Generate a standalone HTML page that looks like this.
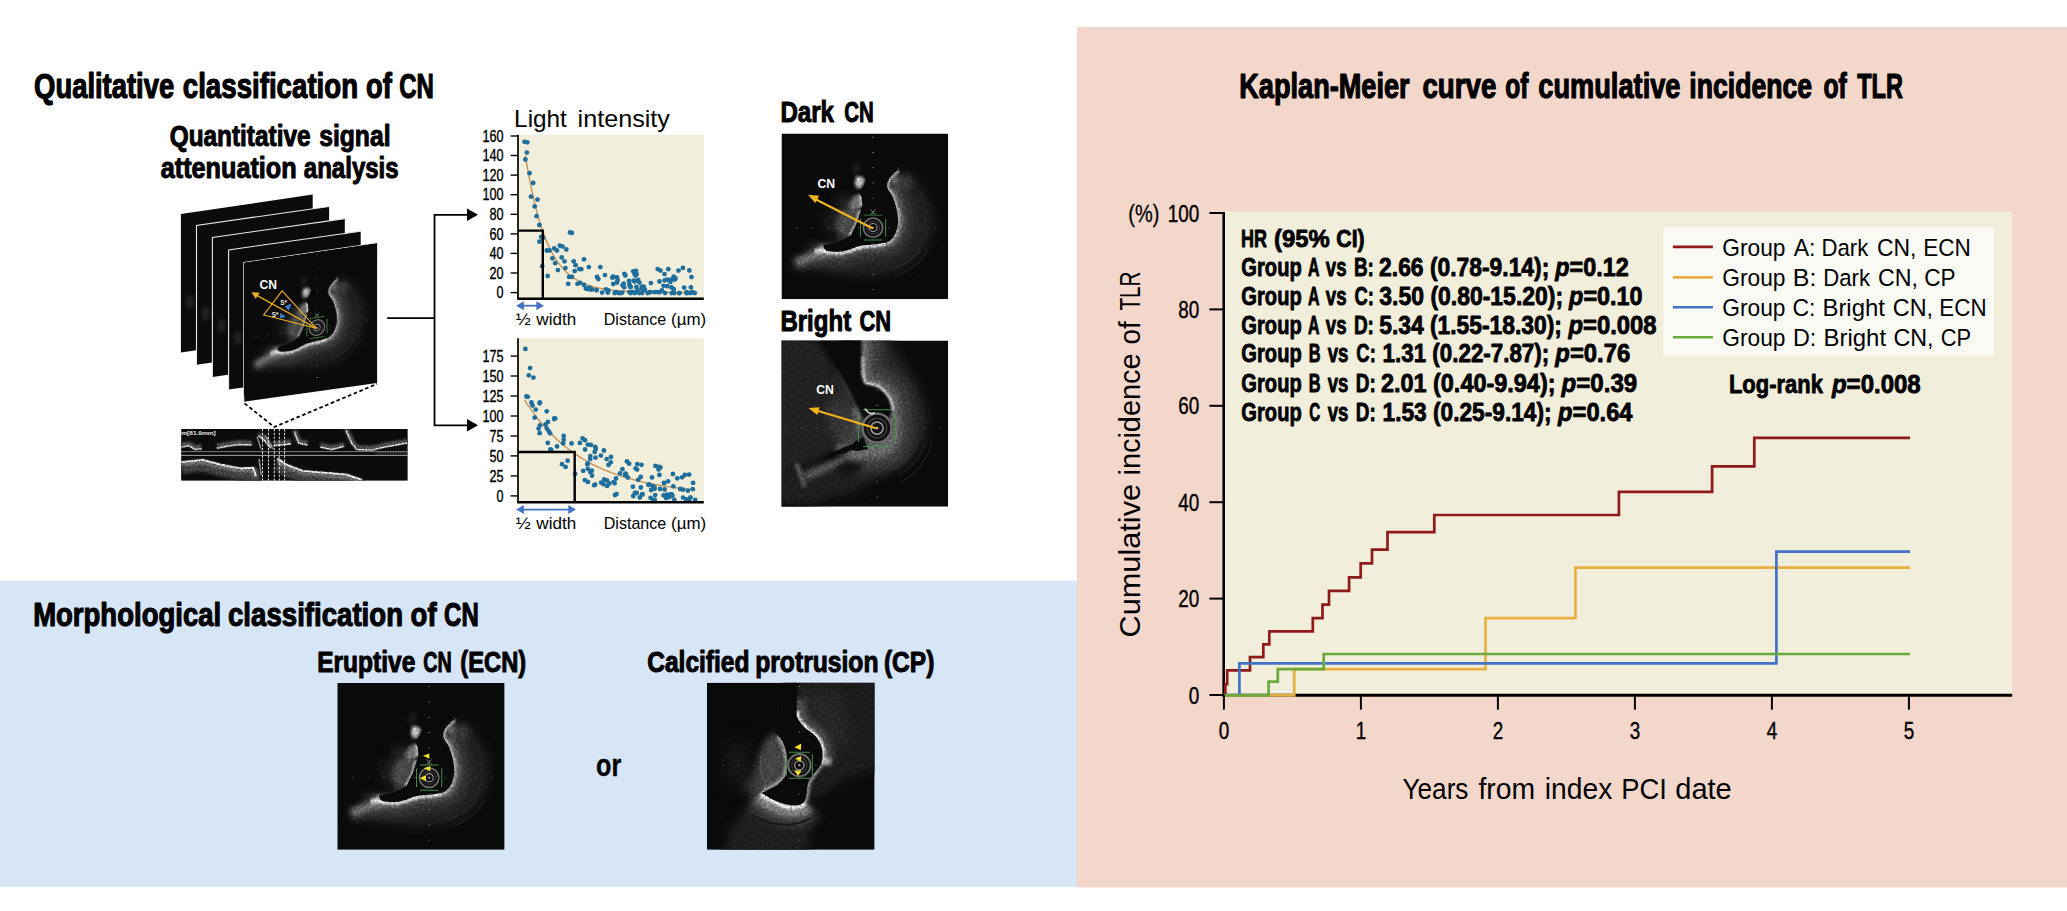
<!DOCTYPE html>
<html lang="en"><head><meta charset="utf-8"><title>Calcified nodule classification and TLR</title>
<style>html,body{margin:0;padding:0;background:#fff;overflow:hidden}svg{display:block}text{font-family:"Liberation Sans", sans-serif;}</style></head>
<body>
<svg width="2067" height="911" viewBox="0 0 2067 911">
<defs>
<filter id="b03" filterUnits="userSpaceOnUse" x="-30" y="-30" width="300" height="160" color-interpolation-filters="sRGB"><feGaussianBlur stdDeviation="0.3"/></filter>
<filter id="b05" filterUnits="userSpaceOnUse" x="-30" y="-30" width="300" height="160" color-interpolation-filters="sRGB"><feGaussianBlur stdDeviation="0.5"/></filter>
<filter id="b07" filterUnits="userSpaceOnUse" x="-30" y="-30" width="300" height="160" color-interpolation-filters="sRGB"><feGaussianBlur stdDeviation="0.7"/></filter>
<filter id="b1" filterUnits="userSpaceOnUse" x="-30" y="-30" width="300" height="160" color-interpolation-filters="sRGB"><feGaussianBlur stdDeviation="1.0"/></filter>
<filter id="b15" filterUnits="userSpaceOnUse" x="-30" y="-30" width="300" height="160" color-interpolation-filters="sRGB"><feGaussianBlur stdDeviation="1.5"/></filter>
<filter id="b2" filterUnits="userSpaceOnUse" x="-30" y="-30" width="300" height="160" color-interpolation-filters="sRGB"><feGaussianBlur stdDeviation="2.0"/></filter>
<filter id="b25" filterUnits="userSpaceOnUse" x="-30" y="-30" width="300" height="160" color-interpolation-filters="sRGB"><feGaussianBlur stdDeviation="2.5"/></filter>
<filter id="b3" filterUnits="userSpaceOnUse" x="-30" y="-30" width="300" height="160" color-interpolation-filters="sRGB"><feGaussianBlur stdDeviation="3.0"/></filter>
<filter id="b4" filterUnits="userSpaceOnUse" x="-30" y="-30" width="300" height="160" color-interpolation-filters="sRGB"><feGaussianBlur stdDeviation="4.0"/></filter>
<filter id="b6" filterUnits="userSpaceOnUse" x="-30" y="-30" width="300" height="160" color-interpolation-filters="sRGB"><feGaussianBlur stdDeviation="6.0"/></filter>
<filter id="spk" x="0" y="0" width="100" height="100" filterUnits="userSpaceOnUse" color-interpolation-filters="sRGB"><feTurbulence type="fractalNoise" baseFrequency="0.7" numOctaves="2" seed="4" result="n"/><feColorMatrix in="n" type="matrix" values="1 0 0 0 0  1 0 0 0 0  1 0 0 0 0  0 0 0 0 1" result="g"/><feComposite in="SourceGraphic" in2="g" operator="arithmetic" k1="0.9" k2="0.55" k3="0" k4="0"/></filter>
<filter id="spk2" x="0" y="0" width="227" height="52" filterUnits="userSpaceOnUse" color-interpolation-filters="sRGB"><feTurbulence type="fractalNoise" baseFrequency="0.6" numOctaves="2" seed="9" result="n"/><feColorMatrix in="n" type="matrix" values="1 0 0 0 0  1 0 0 0 0  1 0 0 0 0  0 0 0 0 1" result="g"/><feComposite in="SourceGraphic" in2="g" operator="arithmetic" k1="1.2" k2="0.4" k3="0" k4="0"/></filter>
<clipPath id="sq"><rect x="0" y="0" width="100" height="100"/></clipPath>
<g id="octA" clip-path="url(#sq)"><rect width="100" height="100" fill="#0a0a0b"/><g filter="url(#spk)"><path d="M69.9,22 C66,25 63,28.5 63.3,31.8 C64,35 66,36 67,39 C69,44 70.2,50 69.9,53.8 C69.5,58 68.5,60 67.7,61.5 C66,64.5 64,65.5 62.2,65.9 C57,67 53,67.2 49.1,67.5 C45,68 43,69.5 40.4,70.3 C37,71.3 34,71.6 31.7,71.4 C29,71.2 27,71 26.2,70.3 C25.3,69.5 25,68.5 25.1,67.5 L21.8,68.5 L10.9,74 L6.5,77 L5,80 L10.9,81.2 C20,84 28,85.3 32.8,85.6 C42,87 50,87 54.6,86.7 C62,86 67,85 71,83.4 C77,80 80,78 83,74.6 C88,69 90,65 90.6,61.5 C92,56 92,52 91.7,49.4 C91,44 89,40 87.3,36.2 C84,31 81,27.5 78.6,25.2 C75,22.5 72,21.5 69.9,22 Z" fill="#202020" filter="url(#b3)"/><path d="M65.5,33.5 C66,35.5 66.5,37 67,39 C69,44 70.2,50 69.9,53.8 C69.5,58 68.5,60 67.7,61.5 C66,64.5 64,65.5 62.2,65.9 C57,67 53,67.2 49.1,67.5 C45,68 43,69.5 40.4,70.3 C37,71.3 34,71.6 31.7,71.4 C29,71.2 27,71 26.2,70.3 C25.3,69.5 25,68.5 25.1,67.5" fill="none" stroke="#363636" stroke-width="18" filter="url(#b25)"/><path d="M72,27 L76,33" fill="none" stroke="#3a3a3a" stroke-width="9" filter="url(#b2)"/><path d="M26,74 L8,79" fill="none" stroke="#3a3a3a" stroke-width="8" filter="url(#b2)"/><path d="M65.5,33.5 C66,35.5 66.5,37 67,39 C69,44 70.2,50 69.9,53.8 C69.5,58 68.5,60 67.7,61.5 C66,64.5 64,65.5 62.2,65.9 C57,67 53,67.2 49.1,67.5 C45,68 43,69.5 40.4,70.3 C37,71.3 34,71.6 31.7,71.4 C29,71.2 27,71 26.2,70.3 C25.3,69.5 25,68.5 25.1,67.5" fill="none" stroke="#606060" stroke-width="7.5" filter="url(#b15)"/><path d="M69.5,25.5 L66.5,31" fill="none" stroke="#646464" stroke-width="5" filter="url(#b15)"/><path d="M28,72.5 L18,74 L9,78" fill="none" stroke="#777" stroke-width="4" filter="url(#b15)"/><path d="M69.9,22 C66,25 63,28.5 63.3,31.8 C64,35 66,36 67,39 C69,44 70.2,50 69.9,53.8 C69.5,58 68.5,60 67.7,61.5 C66,64.5 64,65.5 62.2,65.9 C57,67 53,67.2 49.1,67.5 C45,68 43,69.5 40.4,70.3 C37,71.3 34,71.6 31.7,71.4 C29,71.2 27,71 26.2,70.3 C25.3,69.5 25,68.5 25.1,67.5" fill="none" stroke="#a8a8a8" stroke-width="3" filter="url(#b07)"/><path d="M62.2,65.9 C57,67 53,67.2 49.1,67.5 C45,68 43,69.5 40.4,70.3 C37,71.3 34,71.6 31.7,71.4 C29,71.2 27,71 26.2,70.3 L20,71.5" fill="none" stroke="#d4d4d4" stroke-width="3.2" filter="url(#b07)"/><ellipse cx="33" cy="53" rx="9" ry="9" fill="#1c1c1c" filter="url(#b3)"/><ellipse cx="39" cy="42" rx="7" ry="4.5" fill="#262626" filter="url(#b25)"/><path d="M46.5,45 L44,56 L40.5,62.5 L35,62.5 L32,56 L35,47 L41,44 Z" fill="#4a4a4a" filter="url(#b15)"/><path d="M47,46.5 L44.6,55.5 L41,62" fill="none" stroke="#b5b5b5" stroke-width="2.2" filter="url(#b07)"/><path d="M47.5,36 L48.3,40 L47.5,45 L43,47 L40,43 L43,38 Z" fill="#6e6e6e" filter="url(#b1)"/><path d="M47.3,37 L48,40.5 L47.5,44" fill="none" stroke="#d0d0d0" stroke-width="1.8" filter="url(#b05)"/><path d="M45,25.5 L49,26.5 L50,29 L48,32.5 L45.5,33.5 L44,30 Z" fill="#c2c2c2" filter="url(#b1)"/><path d="M44,24 L46,18" fill="none" stroke="#2a2a2a" stroke-width="3" filter="url(#b15)"/></g><path d="M69.9,22 C66,25 63,28.5 63.3,31.8 C64,35 66,36 67,39 C69,44 70.2,50 69.9,53.8 C69.5,58 68.5,60 67.7,61.5 C66,64.5 64,65.5 62.2,65.9 C57,67 53,67.2 49.1,67.5 C45,68 43,69.5 40.4,70.3 C37,71.3 34,71.6 31.7,71.4 C29,71.2 27,71 26.2,70.3 C25.3,69.5 25,68.5 25.1,67.5 L32.8,65.9 L38.2,63.7 L41.5,61.5 L44.8,54.9 L47,48.3 L48.6,43.9 L48,38.4 L46.4,35.1 L48.6,32.9 L50.8,28.5 L49.7,25.2 L48,19.8 L49,13 L66,13 L67.5,18 Z" fill="#0a0a0b" filter="url(#b03)"/><path d="M84,68 A30,30 0 0 1 66,82 M88,70 A34,34 0 0 1 68,86" fill="none" stroke="#3a3a3a" stroke-width="0.6" opacity="0.5"/><path d="M54.9,2 V100" stroke="#6a6a6a" stroke-width="1.1" stroke-dasharray="0.5 8.7" fill="none"/><path d="M8.9,56.8 H100" stroke="#6a6a6a" stroke-width="0.5" stroke-dasharray="1.0 8.2" fill="none" opacity="0.8"/><circle cx="54.9" cy="56.8" r="6.26" fill="#0a0a0a"/><circle cx="54.9" cy="56.8" r="5.8" fill="#101010" stroke="#6e6e6e" stroke-width="0.99"/><circle cx="54.9" cy="56.8" r="3.94" fill="none" stroke="#3c3c3c" stroke-width="0.58"/><circle cx="54.9" cy="56.8" r="2.44" fill="none" stroke="#9a9a9a" stroke-width="0.64"/><circle cx="54.9" cy="56.8" r="0.58" fill="#c9a0c0"/><path d="M49.39,49.26 H60.41 M49.39,64.34 H60.41 M47.36,51.29 V62.31 M62.44,51.29 V62.31" stroke="#3f8f45" stroke-width="0.6" fill="none"/><path d="M53.2,45.8 L56.6,48.8 M56.6,45.8 L53.2,48.8" stroke="#6d8f6d" stroke-width="0.5"/></g>
<g id="octB" clip-path="url(#sq)"><rect width="100" height="100" fill="#0a0a0b"/><g filter="url(#spk)"><path d="M-6,-6 L22,-2 L32,14 L46,37 L47,58 L27,70 L11,77 L-6,86 Z" fill="#212121" filter="url(#b3)"/><ellipse cx="37" cy="48" rx="9" ry="14" transform="rotate(-20 37 48)" fill="#363636" filter="url(#b3)"/><path d="M44,40 L46.5,48 L46,57 L40,62 L33,66" fill="none" stroke="#6c6c6c" stroke-width="4.5" filter="url(#b15)"/><path d="M-5,80 L20,74 L40,70 L58,72 L60,82 L45,92 L15,100 L-5,100 Z" fill="#1e1e1e" filter="url(#b3)"/><path d="M50,67.5 L40,70.5 L30,75 L14,82" fill="none" stroke="#5c5c5c" stroke-width="4.5" filter="url(#b15)"/><path d="M9,74 L14,88" fill="none" stroke="#555" stroke-width="3" filter="url(#b1)"/><path d="M48,-2 L48,19.8 C48.5,22.5 49,24.5 50.2,26.3 C52.5,26.8 55.5,27 57.5,28.2 C60.5,30 63,32.5 64.2,35.1 C65.5,37.5 66,39.5 66,42 C66,45 66.8,50 66.5,56 C66,59 65,61 64,62 C63,63.5 62,64.5 61,64.8 C58,65.7 55,65.9 52.4,65.9 C49,66 47,66.4 45,67 L40,70 L42,79 L52,83 L65,81 L78,73 L87,59 L88.5,45 L84,30 L76,16 L68,5 L66,-2 Z" fill="#242424" filter="url(#b3)"/><path d="M48,-2 L48,19.8 C48.5,22.5 49,24.5 50.2,26.3 C52.5,26.8 55.5,27 57.5,28.2 C60.5,30 63,32.5 64.2,35.1 C65.5,37.5 66,39.5 66,42 C66,45 66.8,50 66.5,56 C66,59 65,61 64,62 C63,63.5 62,64.5 61,64.8 C58,65.7 55,65.9 52.4,65.9 C49,66 47,66.4 45,67 L40,70" fill="none" stroke="#3e3e3e" stroke-width="25" filter="url(#b3)"/><path d="M48,-2 L48,19.8 C48.5,22.5 49,24.5 50.2,26.3 C52.5,26.8 55.5,27 57.5,28.2 C60.5,30 63,32.5 64.2,35.1 C65.5,37.5 66,39.5 66,42 C66,45 66.8,50 66.5,56 C66,59 65,61 64,62 C63,63.5 62,64.5 61,64.8 C58,65.7 55,65.9 52.4,65.9 C49,66 47,66.4 45,67 L40,70" fill="none" stroke="#6a6a6a" stroke-width="10" filter="url(#b2)"/><path d="M48,10 L48,19.8 C48.5,22.5 49,24.5 50.2,26.3 C52.5,26.8 55.5,27 57.5,28.2 C60.5,30 63,32.5 64.2,35.1 C65.5,37.5 66,39.5 66,42" fill="none" stroke="#ddd" stroke-width="2.8" filter="url(#b07)"/></g><path d="M22,-2 L48,-2 L48,19.8 C48.5,22.5 49,24.5 50.2,26.3 C52.5,26.8 55.5,27 57.5,28.2 C60.5,30 63,32.5 64.2,35.1 C65.5,37.5 66,39.5 66,42 L65,47 L50,47 L46,40 L40,28 L32,14 Z" fill="#0a0a0b" filter="url(#b05)"/><path d="M49,58 L52,65.3 L46,66.5 L42,66 L38,68 L34,68.3 L31,70.3 L29,71.3 L27.5,70.6 L26,71.8 L24.5,71 L28,68.6 L36,65 L42,62.5 L45,60 Z" fill="#0a0a0b" filter="url(#b03)"/><ellipse cx="41" cy="76.5" rx="8" ry="3.6" transform="rotate(-8 41 76.5)" fill="#101010" filter="url(#b15)" opacity="0.9"/><path d="M86,62 A33,33 0 0 1 70,81 M90,62 A37,37 0 0 1 72,85 M82,60 A29,29 0 0 1 68,77" fill="none" stroke="#555" stroke-width="0.6" opacity="0.35"/><path d="M57.3,2 V100" stroke="#6a6a6a" stroke-width="1.1" stroke-dasharray="0.5 8.7" fill="none"/><path d="M2.1,52.7 H100" stroke="#6a6a6a" stroke-width="0.5" stroke-dasharray="1.0 8.2" fill="none" opacity="0.8"/><circle cx="57.3" cy="52.7" r="9.40" fill="#0a0a0a"/><circle cx="57.3" cy="52.7" r="8.7" fill="#101010" stroke="#6e6e6e" stroke-width="1.48"/><circle cx="57.3" cy="52.7" r="5.92" fill="none" stroke="#3c3c3c" stroke-width="0.87"/><circle cx="57.3" cy="52.7" r="3.65" fill="none" stroke="#9a9a9a" stroke-width="0.96"/><circle cx="57.3" cy="52.7" r="0.87" fill="#c9a0c0"/><path d="M49.03,41.65 H65.56 M49.03,63.75 H65.56 M46.25,44.44 V60.97 M68.35,44.44 V60.97" stroke="#3f8f45" stroke-width="0.6" fill="none"/><path d="M50,41 C52,44 54,44.5 56,43.5" fill="none" stroke="#ddd" stroke-width="1"/></g>
<g id="octC" clip-path="url(#sq)"><rect width="100" height="100" fill="#0a0a0b"/><g filter="url(#spk)"><path d="M53.5,-5 L104,-5 L104,52 L84,58 L72,66 L62,72 L58,68 L60,58 L68,48 L68,38 L60,28 L53.5,20 Z" fill="#1c1c1c" filter="url(#b3)"/><path d="M56,2 L80,6 L86,34 L78,42 L70,40 L62,27 L55,18 Z" fill="#262626" filter="url(#b4)"/><path d="M30,66 L45,76 L58,75 L64,82 L60,104 L8,104 L14,86 Z" fill="#1e1e1e" filter="url(#b3)"/><path d="M57.9,71.4 C56.5,73 54.5,73.6 52.4,73.5 C49,73.4 46,72.8 43.7,71.9 C40.5,70.7 38,69.4 36,68.1 C34.5,67.3 33.5,66.6 32.8,65.9 L29,70" fill="none" stroke="#3c3c3c" stroke-width="26" filter="url(#b25)"/><path d="M41,29 L46.4,38.4 L48,46.1 L47,54.9 L41.5,61.5 L33.5,65.5 L29,56 L29.5,45 L34,35 Z" fill="#444" filter="url(#b2)"/><ellipse cx="18" cy="48" rx="10" ry="16" fill="#161616" filter="url(#b4)"/><path d="M42.6,31.8 C44,33.5 45.5,35.5 46.4,38.4 C47,40.5 47.6,43 48,46.1 C48.2,49 48,51.5 47,54.9 C46.5,56.5 45,58.5 41.5,61.5 L35,65" fill="none" stroke="#9a9a9a" stroke-width="3.6" filter="url(#b1)"/><path d="M53.5,10 L53.5,19.8 C55,23.5 57,25.7 59,27.4 C61.5,29.3 64,31 65.5,32.9 C67.5,35.5 68.5,38 68.8,40.6 C69.2,43 69,46 68.2,48.3" fill="none" stroke="#4e4e4e" stroke-width="11" filter="url(#b2)"/><path d="M53.5,17 L53.5,19.8 C55,23.5 57,25.7 59,27.4 C61.5,29.3 64,31 65.5,32.9 C67.5,35.5 68.5,38 68.8,40.6 C69.2,43 69,46 68.2,48.3" fill="none" stroke="#dedede" stroke-width="3.4" filter="url(#b07)"/><ellipse cx="71.5" cy="47" rx="3" ry="2.2" fill="#aaa" filter="url(#b1)"/><path d="M68.2,48.3 C67,50.5 65.5,52.5 64.4,53.8 C62.5,56 61.3,57.8 60.6,59.3 C59.8,61.5 59.6,64 59.5,65.9 C59.3,68.5 58.8,70.3 57.9,71.4" fill="none" stroke="#8a8a8a" stroke-width="3.4" filter="url(#b1)"/><path d="M57.9,71.4 C56.5,73 54.5,73.6 52.4,73.5 C49,73.4 46,72.8 43.7,71.9 C40.5,70.7 38,69.4 36,68.1 C34.5,67.3 33.5,66.6 32.8,65.9" fill="none" stroke="#808080" stroke-width="14" filter="url(#b15)"/><path d="M57.9,71.4 C56.5,73 54.5,73.6 52.4,73.5 C49,73.4 46,72.8 43.7,71.9 C40.5,70.7 38,69.4 36,68.1 C34.5,67.3 33.5,66.6 32.8,65.9" fill="none" stroke="#dcdcdc" stroke-width="4.6" filter="url(#b07)"/></g><path d="M53.5,-2 L53.5,19.8 C55,23.5 57,25.7 59,27.4 C61.5,29.3 64,31 65.5,32.9 C67.5,35.5 68.5,38 68.8,40.6 C69.2,43 69,46 68.2,48.3 C67,50.5 65.5,52.5 64.4,53.8 C62.5,56 61.3,57.8 60.6,59.3 C59.8,61.5 59.6,64 59.5,65.9 C59.3,68.5 58.8,70.3 57.9,71.4 C56.5,73 54.5,73.6 52.4,73.5 C49,73.4 46,72.8 43.7,71.9 C40.5,70.7 38,69.4 36,68.1 C34.5,67.3 33.5,66.6 32.8,65.9 L41.5,61.5 C45,58.5 46.5,56.5 47,54.9 C48,51.5 48.2,49 48,46.1 C47.6,43 47,40.5 46.4,38.4 C45.5,35.5 44,33.5 42.6,31.8 L40.4,28.5 L45.9,24 L45,-2 Z" fill="#0a0a0b" filter="url(#b03)"/><path d="M27,79 C38,86 52,87 62,81" fill="none" stroke="#141414" stroke-width="1.1" opacity="0.9" filter="url(#b03)"/><path d="M33,43 C31,49 32,56 35,61" fill="none" stroke="#6a6a6a" stroke-width="0.6" opacity="0.7"/><path d="M55.1,2 V100" stroke="#6a6a6a" stroke-width="1.1" stroke-dasharray="0.5 8.7" fill="none"/><path d="M9.1,49.4 H100" stroke="#6a6a6a" stroke-width="0.5" stroke-dasharray="1.0 8.2" fill="none" opacity="0.8"/><circle cx="55.1" cy="49.4" r="7.24" fill="#0a0a0a"/><circle cx="55.1" cy="49.4" r="6.7" fill="#101010" stroke="#6e6e6e" stroke-width="1.14"/><circle cx="55.1" cy="49.4" r="4.56" fill="none" stroke="#3c3c3c" stroke-width="0.67"/><circle cx="55.1" cy="49.4" r="2.81" fill="none" stroke="#9a9a9a" stroke-width="0.74"/><circle cx="55.1" cy="49.4" r="0.67" fill="#c9a0c0"/><path d="M48.73,41.63 H61.47 M48.73,57.17 H61.47 M47.33,43.03 V55.77 M62.87,43.03 V55.77" stroke="#3f8f45" stroke-width="0.6" fill="none"/><g fill="#f5e02a"><polygon points="52.2,38.6 56.2,36.4 56,40.4"/><polygon points="52.6,45.4 56.2,43.8 56,47.4"/><polygon points="52,52.6 56.4,52.6 54.4,55.8"/></g></g>
<g id="strip"><clipPath id="stc"><rect width="226.7" height="51.8"/></clipPath><g clip-path="url(#stc)"><rect width="226.7" height="51.8" fill="#0b0b0b"/><g filter="url(#spk2)"><path d="M0,17.9 L7.8,16.7 L14.1,20.5 L20.5,19.8" fill="none" stroke="#505050" stroke-width="5" transform="translate(0,-2)" filter="url(#b1)"/><path d="M0,17.9 L7.8,16.7 L14.1,20.5 L20.5,19.8" fill="none" stroke="#d0d0d0" stroke-width="1.5" filter="url(#b03)"/><path d="M35.6,19.2 L45.7,17.3 L58.3,15.4 L71,16" fill="none" stroke="#505050" stroke-width="5" transform="translate(0,-2)" filter="url(#b1)"/><path d="M35.6,19.2 L45.7,17.3 L58.3,15.4 L71,16" fill="none" stroke="#d0d0d0" stroke-width="1.5" filter="url(#b03)"/><path d="M77.3,6.6 L83.6,11.6 L89.9,19.2" fill="none" stroke="#505050" stroke-width="5" transform="translate(0,-2)" filter="url(#b1)"/><path d="M77.3,6.6 L83.6,11.6 L89.9,19.2" fill="none" stroke="#d0d0d0" stroke-width="1.5" filter="url(#b03)"/><path d="M92.4,16.7 L110.1,14.8" fill="none" stroke="#505050" stroke-width="5" transform="translate(0,-2)" filter="url(#b1)"/><path d="M92.4,16.7 L110.1,14.8" fill="none" stroke="#d0d0d0" stroke-width="1.5" filter="url(#b03)"/><path d="M113.3,2.8 L117.7,14.1 L126.5,16" fill="none" stroke="#505050" stroke-width="5" transform="translate(0,-2)" filter="url(#b1)"/><path d="M113.3,2.8 L117.7,14.1 L126.5,16" fill="none" stroke="#d0d0d0" stroke-width="1.5" filter="url(#b03)"/><path d="M139.1,17.9 L150.5,20.5 L163.1,17.3" fill="none" stroke="#505050" stroke-width="5" transform="translate(0,-2)" filter="url(#b1)"/><path d="M139.1,17.9 L150.5,20.5 L163.1,17.3" fill="none" stroke="#d0d0d0" stroke-width="1.5" filter="url(#b03)"/><path d="M165,1.5 L170.7,14.1 L175.8,20.5 L190.9,21.1 L203.5,17.9 L226.3,14.1" fill="none" stroke="#505050" stroke-width="5" transform="translate(0,-2)" filter="url(#b1)"/><path d="M165,1.5 L170.7,14.1 L175.8,20.5 L190.9,21.1 L203.5,17.9 L226.3,14.1" fill="none" stroke="#d0d0d0" stroke-width="1.5" filter="url(#b03)"/><path d="M0,33.1 L21.7,30.8 L39.4,35.6 L59.6,39.4 L72.2,38.8 L74.7,47" fill="none" stroke="#404040" stroke-width="12" transform="translate(0,6)" filter="url(#b15)"/><path d="M0,33.1 L21.7,30.8 L39.4,35.6 L59.6,39.4 L72.2,38.8 L74.7,47" fill="none" stroke="#707070" stroke-width="4.5" transform="translate(0,2)" filter="url(#b1)"/><path d="M0,33.1 L21.7,30.8 L39.4,35.6 L59.6,39.4 L72.2,38.8 L74.7,47" fill="none" stroke="#e4e4e4" stroke-width="1.8" filter="url(#b03)"/><path d="M96.2,29.3 L105.1,35.6 L121.5,41.9 L165.7,45.7 L180.8,50.8" fill="none" stroke="#404040" stroke-width="12" transform="translate(0,6)" filter="url(#b15)"/><path d="M96.2,29.3 L105.1,35.6 L121.5,41.9 L165.7,45.7 L180.8,50.8" fill="none" stroke="#707070" stroke-width="4.5" transform="translate(0,2)" filter="url(#b1)"/><path d="M96.2,29.3 L105.1,35.6 L121.5,41.9 L165.7,45.7 L180.8,50.8" fill="none" stroke="#e4e4e4" stroke-width="1.8" filter="url(#b03)"/><path d="M76,8 L80,20 M78,30 L80,46 M84,6 L92,20 M96,30 L100,36" fill="none" stroke="#8a8a8a" stroke-width="1.6" filter="url(#b05)"/></g><path d="M0,22.6 H226.7" stroke="#8a8a8a" stroke-width="0.9"/><path d="M0,26.4 H226.7" stroke="#b4b4b4" stroke-width="0.9"/><path d="M196,24 H226" stroke="#888" stroke-width="3" stroke-dasharray="1 1.6" opacity="0.6"/><path d="M81.4,0 V52 M87.4,0 V52 M93.2,0 V52 M98.2,0 V52 M103.5,0 V52" stroke="#fff" stroke-width="0.9" stroke-dasharray="2.3 1.5" fill="none"/><text x="0.2" y="6.4" font-size="6.2" font-weight="bold" fill="#e6e6e6" textLength="34.5" lengthAdjust="spacingAndGlyphs">m[81.9mm]</text></g></g>
</defs>
<rect x="0" y="0" width="2067" height="911" fill="#fff"/>
<rect x="0" y="580.7" width="1077.5" height="306.1" fill="#d6e6f6"/>
<rect x="1077" y="27" width="990" height="860.4" fill="#f3d7cb"/>
<text x="34.07" y="97.70" font-size="34.34" font-weight="bold" fill="#000" textLength="140.17" lengthAdjust="spacingAndGlyphs" stroke="#000" stroke-width="1.19" stroke-linejoin="round">Qualitative</text><text x="182.81" y="97.70" font-size="34.34" font-weight="bold" fill="#000" textLength="175.31" lengthAdjust="spacingAndGlyphs" stroke="#000" stroke-width="1.19" stroke-linejoin="round">classification</text><text x="365.93" y="97.70" font-size="34.34" font-weight="bold" fill="#000" textLength="25.83" lengthAdjust="spacingAndGlyphs" stroke="#000" stroke-width="1.19" stroke-linejoin="round">of</text><text x="399.31" y="97.70" font-size="34.34" font-weight="bold" fill="#000" textLength="34.61" lengthAdjust="spacingAndGlyphs" stroke="#000" stroke-width="1.19" stroke-linejoin="round">CN</text>
<text x="169.71" y="145.59" font-size="29.58" font-weight="bold" fill="#000" textLength="140.81" lengthAdjust="spacingAndGlyphs" stroke="#000" stroke-width="1.02" stroke-linejoin="round">Quantitative</text><text x="319.24" y="145.59" font-size="29.58" font-weight="bold" fill="#000" textLength="71.29" lengthAdjust="spacingAndGlyphs" stroke="#000" stroke-width="1.02" stroke-linejoin="round">signal</text>
<text x="160.77" y="178.49" font-size="29.58" font-weight="bold" fill="#000" textLength="135.88" lengthAdjust="spacingAndGlyphs" stroke="#000" stroke-width="1.02" stroke-linejoin="round">attenuation</text><text x="303.81" y="178.49" font-size="29.58" font-weight="bold" fill="#000" textLength="94.87" lengthAdjust="spacingAndGlyphs" stroke="#000" stroke-width="1.02" stroke-linejoin="round">analysis</text>
<text x="514.10" y="126.50" font-size="24.00" font-weight="normal" fill="#000" textLength="52.77" lengthAdjust="spacingAndGlyphs">Light</text><text x="577.62" y="126.50" font-size="24.00" font-weight="normal" fill="#000" textLength="92.33" lengthAdjust="spacingAndGlyphs">intensity</text>
<text x="780.39" y="121.90" font-size="29.09" font-weight="bold" fill="#000" textLength="53.58" lengthAdjust="spacingAndGlyphs" stroke="#000" stroke-width="1.01" stroke-linejoin="round">Dark</text><text x="844.27" y="121.90" font-size="29.09" font-weight="bold" fill="#000" textLength="29.50" lengthAdjust="spacingAndGlyphs" stroke="#000" stroke-width="1.01" stroke-linejoin="round">CN</text>
<text x="780.40" y="330.69" font-size="29.09" font-weight="bold" fill="#000" textLength="70.79" lengthAdjust="spacingAndGlyphs" stroke="#000" stroke-width="1.01" stroke-linejoin="round">Bright</text><text x="859.41" y="330.69" font-size="29.09" font-weight="bold" fill="#000" textLength="31.67" lengthAdjust="spacingAndGlyphs" stroke="#000" stroke-width="1.01" stroke-linejoin="round">CN</text>
<polygon points="180.9,214.0 312.7,194.6 312.7,333.1 180.9,352.5" fill="#0b0b0b"/>
<g transform="translate(189.9,302.0)"><ellipse cx="0" cy="0" rx="3.5" ry="7" fill="#3a3a3a" filter="url(#b2)" opacity="0.6"/></g>
<polygon points="196.5,225.4 329.1,206.5 329.1,345.9 196.5,364.8" fill="#0b0b0b"/>
<polyline points="196.5,364.8 196.5,225.4 329.1,206.5" fill="none" stroke="#e8e8e8" stroke-width="1.1"/>
<g transform="translate(205.5,313.4)"><ellipse cx="0" cy="0" rx="3.5" ry="7" fill="#3a3a3a" filter="url(#b2)" opacity="0.6"/></g>
<polygon points="212.4,237.5 344.8,218.6 344.8,358.1 212.4,377.0" fill="#0b0b0b"/>
<polyline points="212.4,377.0 212.4,237.5 344.8,218.6" fill="none" stroke="#e8e8e8" stroke-width="1.1"/>
<g transform="translate(221.4,325.5)"><ellipse cx="0" cy="0" rx="3.5" ry="7" fill="#3a3a3a" filter="url(#b2)" opacity="0.6"/></g>
<polygon points="228.6,249.9 360.7,231.2 360.7,370.9 228.6,389.6" fill="#0b0b0b"/>
<polyline points="228.6,389.6 228.6,249.9 360.7,231.2" fill="none" stroke="#e8e8e8" stroke-width="1.1"/>
<g transform="translate(237.6,337.9)"><ellipse cx="0" cy="0" rx="3.5" ry="7" fill="#3a3a3a" filter="url(#b2)" opacity="0.6"/></g>
<polygon points="243.8,262.5 377.1,243.1 377.1,383.0 243.8,401.7" fill="#0b0b0b"/>
<polyline points="243.8,401.7 243.8,262.5 377.1,243.1" fill="none" stroke="#e8e8e8" stroke-width="1.1"/>
<use href="#octA" transform="matrix(1.333,-0.194,0,1.333,243.8,262.5)"/>
<g stroke="#eeb21f" stroke-width="1.1" fill="none"><line x1="316.4" y1="328.2" x2="255.5" y2="294.6" stroke-width="1.2"/><polygon points="282.1,290.9 263.7,315.0 316.4,328.2"/></g>
<polygon points="251.4,292.2 259.8,292.7 255.8,298.8" fill="#eeb21f"/>
<text x="259.6" y="288.5" font-size="12.6" font-weight="bold" fill="#fff" textLength="17.4" lengthAdjust="spacingAndGlyphs">CN</text>
<text x="280.2" y="304.6" font-size="6.4" font-weight="bold" fill="#eee">S*</text>
<text x="271.8" y="316.6" font-size="6.4" font-weight="bold" fill="#eee">S*</text>
<polygon points="284.8,306.3 291.4,303.6 288.7,310.7" fill="#3f7fd8"/><polygon points="279.9,312.8 285.7,316.8 280.4,318.6" fill="#3f7fd8"/>
<path d="M244.6,403.4 L274.3,427 L377.1,383.9" fill="none" stroke="#000" stroke-width="1.8" stroke-dasharray="3.6 2.6"/>
<use href="#strip" transform="translate(181.1,429)"/>
<rect x="518" y="134.8" width="185.8" height="163.9" fill="#f1eedc"/>
<path d="M525.4,155.5 L528.3,172.9 L531.3,188.0 L534.2,201.2 L537.1,212.8 L540.0,222.9 L542.9,231.7 L545.8,239.4 L548.7,246.1 L551.6,252.0 L554.6,257.1 L557.5,261.6 L560.4,265.5 L563.3,268.9 L566.2,271.9 L569.1,274.6 L572.0,276.8 L575.0,278.8 L577.9,280.6 L580.8,282.1 L583.7,283.4 L586.6,284.6 L589.5,285.6 L592.4,286.5 L595.3,287.3 L598.3,287.9 L601.2,288.5 L604.1,289.0 L607.0,289.5 L609.9,289.9 L612.8,290.2 L615.7,290.5 L618.6,290.8 L621.6,291.0 L624.5,291.2 L627.4,291.4 L630.3,291.5 L633.2,291.7 L636.1,291.8 L639.0,291.9 L642.0,292.0 L644.9,292.1 L647.8,292.1 L650.7,292.2 L653.6,292.2 L656.5,292.3 L659.4,292.3 L662.3,292.4 L665.3,292.4 L668.2,292.4 L671.1,292.4 L674.0,292.5 L676.9,292.5 L679.8,292.5 L682.7,292.5 L685.6,292.5 L688.6,292.5 L691.5,292.5 L694.4,292.5 L697.3,292.6" fill="none" stroke="#c9935a" stroke-width="1.4"/>
<g fill="#1f6e9c"><circle cx="524.5" cy="141.8" r="2.4"/><circle cx="527.3" cy="142.3" r="2.4"/><circle cx="526.9" cy="152.6" r="2.4"/><circle cx="525.4" cy="159.5" r="2.4"/><circle cx="529.5" cy="173.2" r="2.4"/><circle cx="533.2" cy="183.0" r="2.4"/><circle cx="531.0" cy="196.7" r="2.4"/><circle cx="537.5" cy="199.6" r="2.4"/><circle cx="534.7" cy="206.4" r="2.4"/><circle cx="536.6" cy="216.2" r="2.4"/><circle cx="539.4" cy="225.0" r="2.4"/><circle cx="541.2" cy="236.8" r="2.4"/><circle cx="543.1" cy="237.8" r="2.4"/><circle cx="539.4" cy="241.7" r="2.4"/><circle cx="542.2" cy="266.2" r="2.4"/><circle cx="547.7" cy="276.0" r="2.4"/><circle cx="570.0" cy="232.4" r="2.4"/><circle cx="571.9" cy="232.9" r="2.4"/><circle cx="546.8" cy="250.5" r="2.4"/><circle cx="549.6" cy="250.5" r="2.4"/><circle cx="552.4" cy="258.3" r="2.4"/><circle cx="555.2" cy="263.2" r="2.4"/><circle cx="557.9" cy="270.1" r="2.4"/><circle cx="554.2" cy="248.5" r="2.4"/><circle cx="557.0" cy="250.5" r="2.4"/><circle cx="559.8" cy="245.6" r="2.4"/><circle cx="562.6" cy="246.6" r="2.4"/><circle cx="566.3" cy="249.5" r="2.4"/><circle cx="561.7" cy="257.4" r="2.4"/><circle cx="564.5" cy="261.3" r="2.4"/><circle cx="565.4" cy="268.1" r="2.4"/><circle cx="568.2" cy="283.8" r="2.4"/><circle cx="569.1" cy="276.9" r="2.4"/><circle cx="571.9" cy="276.9" r="2.4"/><circle cx="573.7" cy="261.3" r="2.4"/><circle cx="575.6" cy="265.2" r="2.4"/><circle cx="574.7" cy="271.1" r="2.4"/><circle cx="579.3" cy="269.1" r="2.4"/><circle cx="584.0" cy="259.3" r="2.4"/><circle cx="577.5" cy="283.8" r="2.4"/><circle cx="580.2" cy="282.8" r="2.4"/><circle cx="581.3" cy="269.2" r="2.4"/><circle cx="584.1" cy="285.0" r="2.4"/><circle cx="585.9" cy="288.5" r="2.4"/><circle cx="587.3" cy="288.7" r="2.4"/><circle cx="588.8" cy="267.1" r="2.4"/><circle cx="589.2" cy="289.0" r="2.4"/><circle cx="589.5" cy="287.6" r="2.4"/><circle cx="590.0" cy="289.2" r="2.4"/><circle cx="591.9" cy="289.5" r="2.4"/><circle cx="596.4" cy="290.1" r="2.4"/><circle cx="596.6" cy="290.1" r="2.4"/><circle cx="597.1" cy="276.9" r="2.4"/><circle cx="598.3" cy="279.1" r="2.4"/><circle cx="600.4" cy="267.1" r="2.4"/><circle cx="602.1" cy="292.6" r="2.4"/><circle cx="605.0" cy="275.1" r="2.4"/><circle cx="606.0" cy="289.4" r="2.4"/><circle cx="607.9" cy="292.6" r="2.4"/><circle cx="608.5" cy="290.3" r="2.4"/><circle cx="612.3" cy="277.7" r="2.4"/><circle cx="613.2" cy="276.6" r="2.4"/><circle cx="613.3" cy="284.0" r="2.4"/><circle cx="614.6" cy="293.1" r="2.4"/><circle cx="616.1" cy="292.1" r="2.4"/><circle cx="617.0" cy="282.5" r="2.4"/><circle cx="617.0" cy="277.5" r="2.4"/><circle cx="617.6" cy="280.1" r="2.4"/><circle cx="618.8" cy="293.1" r="2.4"/><circle cx="621.1" cy="293.1" r="2.4"/><circle cx="622.2" cy="292.6" r="2.4"/><circle cx="622.6" cy="285.2" r="2.4"/><circle cx="623.7" cy="283.6" r="2.4"/><circle cx="624.2" cy="287.3" r="2.4"/><circle cx="624.4" cy="273.8" r="2.4"/><circle cx="625.4" cy="275.6" r="2.4"/><circle cx="629.1" cy="280.9" r="2.4"/><circle cx="629.4" cy="292.1" r="2.4"/><circle cx="629.4" cy="284.5" r="2.4"/><circle cx="630.2" cy="286.7" r="2.4"/><circle cx="630.7" cy="293.1" r="2.4"/><circle cx="630.8" cy="287.1" r="2.4"/><circle cx="632.1" cy="292.1" r="2.4"/><circle cx="633.2" cy="271.3" r="2.4"/><circle cx="633.7" cy="280.6" r="2.4"/><circle cx="633.8" cy="292.1" r="2.4"/><circle cx="634.5" cy="273.8" r="2.4"/><circle cx="634.7" cy="281.4" r="2.4"/><circle cx="634.9" cy="293.1" r="2.4"/><circle cx="635.5" cy="275.5" r="2.4"/><circle cx="636.0" cy="270.8" r="2.4"/><circle cx="636.4" cy="287.0" r="2.4"/><circle cx="636.6" cy="274.2" r="2.4"/><circle cx="637.6" cy="289.9" r="2.4"/><circle cx="638.2" cy="279.8" r="2.4"/><circle cx="639.2" cy="293.1" r="2.4"/><circle cx="639.4" cy="282.6" r="2.4"/><circle cx="641.8" cy="286.8" r="2.4"/><circle cx="641.9" cy="288.8" r="2.4"/><circle cx="642.0" cy="286.8" r="2.4"/><circle cx="642.1" cy="293.1" r="2.4"/><circle cx="643.7" cy="286.7" r="2.4"/><circle cx="644.9" cy="289.7" r="2.4"/><circle cx="647.7" cy="293.1" r="2.4"/><circle cx="650.0" cy="292.1" r="2.4"/><circle cx="650.8" cy="292.1" r="2.4"/><circle cx="650.9" cy="283.1" r="2.4"/><circle cx="654.8" cy="292.1" r="2.4"/><circle cx="657.5" cy="292.1" r="2.4"/><circle cx="657.7" cy="269.1" r="2.4"/><circle cx="658.9" cy="292.1" r="2.4"/><circle cx="659.5" cy="281.5" r="2.4"/><circle cx="660.0" cy="292.1" r="2.4"/><circle cx="660.5" cy="270.6" r="2.4"/><circle cx="662.0" cy="290.4" r="2.4"/><circle cx="663.6" cy="285.8" r="2.4"/><circle cx="664.5" cy="274.1" r="2.4"/><circle cx="664.7" cy="280.3" r="2.4"/><circle cx="665.2" cy="293.1" r="2.4"/><circle cx="667.2" cy="279.7" r="2.4"/><circle cx="667.3" cy="286.2" r="2.4"/><circle cx="668.3" cy="269.2" r="2.4"/><circle cx="670.4" cy="281.9" r="2.4"/><circle cx="671.2" cy="279.6" r="2.4"/><circle cx="671.5" cy="287.5" r="2.4"/><circle cx="671.7" cy="293.1" r="2.4"/><circle cx="673.7" cy="276.7" r="2.4"/><circle cx="673.7" cy="289.2" r="2.4"/><circle cx="674.1" cy="293.1" r="2.4"/><circle cx="674.5" cy="279.5" r="2.4"/><circle cx="675.6" cy="278.5" r="2.4"/><circle cx="678.5" cy="270.6" r="2.4"/><circle cx="678.9" cy="293.1" r="2.4"/><circle cx="679.7" cy="293.1" r="2.4"/><circle cx="682.9" cy="267.9" r="2.4"/><circle cx="684.2" cy="287.6" r="2.4"/><circle cx="686.4" cy="293.1" r="2.4"/><circle cx="686.7" cy="292.1" r="2.4"/><circle cx="686.8" cy="293.1" r="2.4"/><circle cx="689.3" cy="270.4" r="2.4"/><circle cx="690.2" cy="293.1" r="2.4"/><circle cx="690.9" cy="287.4" r="2.4"/><circle cx="691.5" cy="277.1" r="2.4"/><circle cx="692.1" cy="292.1" r="2.4"/><circle cx="693.2" cy="292.6" r="2.4"/><circle cx="694.7" cy="293.1" r="2.4"/></g>
<path d="M518,134.8 V298.7" fill="none" stroke="#000" stroke-width="1.7"/><path d="M517.2,298.7 H703.8" fill="none" stroke="#000" stroke-width="2.4"/>
<path d="M518,230.6 H542.8 V298.7" fill="none" stroke="#000" stroke-width="2.4"/>
<line x1="510.6" y1="292.6" x2="518" y2="292.6" stroke="#000" stroke-width="1.4"/>
<text x="503.6" y="298.2" font-size="15.8" font-weight="normal" text-anchor="end" fill="#000" textLength="7.0" lengthAdjust="spacingAndGlyphs" stroke="#000" stroke-width="0.35">0</text>
<line x1="510.6" y1="273.0" x2="518" y2="273.0" stroke="#000" stroke-width="1.4"/>
<text x="503.6" y="278.6" font-size="15.8" font-weight="normal" text-anchor="end" fill="#000" textLength="14.1" lengthAdjust="spacingAndGlyphs" stroke="#000" stroke-width="0.35">20</text>
<line x1="510.6" y1="253.4" x2="518" y2="253.4" stroke="#000" stroke-width="1.4"/>
<text x="503.6" y="259.0" font-size="15.8" font-weight="normal" text-anchor="end" fill="#000" textLength="14.1" lengthAdjust="spacingAndGlyphs" stroke="#000" stroke-width="0.35">40</text>
<line x1="510.6" y1="233.9" x2="518" y2="233.9" stroke="#000" stroke-width="1.4"/>
<text x="503.6" y="239.5" font-size="15.8" font-weight="normal" text-anchor="end" fill="#000" textLength="14.1" lengthAdjust="spacingAndGlyphs" stroke="#000" stroke-width="0.35">60</text>
<line x1="510.6" y1="214.3" x2="518" y2="214.3" stroke="#000" stroke-width="1.4"/>
<text x="503.6" y="219.9" font-size="15.8" font-weight="normal" text-anchor="end" fill="#000" textLength="14.1" lengthAdjust="spacingAndGlyphs" stroke="#000" stroke-width="0.35">80</text>
<line x1="510.6" y1="194.7" x2="518" y2="194.7" stroke="#000" stroke-width="1.4"/>
<text x="503.6" y="200.3" font-size="15.8" font-weight="normal" text-anchor="end" fill="#000" textLength="21.1" lengthAdjust="spacingAndGlyphs" stroke="#000" stroke-width="0.35">100</text>
<line x1="510.6" y1="175.1" x2="518" y2="175.1" stroke="#000" stroke-width="1.4"/>
<text x="503.6" y="180.7" font-size="15.8" font-weight="normal" text-anchor="end" fill="#000" textLength="21.1" lengthAdjust="spacingAndGlyphs" stroke="#000" stroke-width="0.35">120</text>
<line x1="510.6" y1="155.5" x2="518" y2="155.5" stroke="#000" stroke-width="1.4"/>
<text x="503.6" y="161.1" font-size="15.8" font-weight="normal" text-anchor="end" fill="#000" textLength="21.1" lengthAdjust="spacingAndGlyphs" stroke="#000" stroke-width="0.35">140</text>
<line x1="510.6" y1="136.0" x2="518" y2="136.0" stroke="#000" stroke-width="1.4"/>
<text x="503.6" y="141.6" font-size="15.8" font-weight="normal" text-anchor="end" fill="#000" textLength="21.1" lengthAdjust="spacingAndGlyphs" stroke="#000" stroke-width="0.35">160</text>
<g fill="#4472c4" stroke="none"><rect x="521" y="304.8" width="20.3" height="1.8"/><polygon points="516.2,305.7 523.8,301.2 523.8,310.2"/><polygon points="544.0,305.7 536.4,301.2 536.4,310.2"/></g>
<text x="515.71" y="325.10" font-size="16.20" font-weight="normal" fill="#000" textLength="14.97" lengthAdjust="spacingAndGlyphs">½</text><text x="536.33" y="325.10" font-size="16.20" font-weight="normal" fill="#000" textLength="39.88" lengthAdjust="spacingAndGlyphs">width</text><text x="603.78" y="325.10" font-size="16.20" font-weight="normal" fill="#000" textLength="62.43" lengthAdjust="spacingAndGlyphs">Distance</text><text x="671.05" y="325.10" font-size="16.20" font-weight="normal" fill="#000" textLength="35.10" lengthAdjust="spacingAndGlyphs">(µm)</text>
<rect x="518" y="338.2" width="185.8" height="164.0" fill="#f1eedc"/>
<path d="M524.5,400.0 L527.4,404.4 L530.3,408.7 L533.2,412.7 L536.1,416.5 L539.0,420.2 L541.9,423.7 L544.8,427.0 L547.7,430.2 L550.6,433.2 L553.5,436.1 L556.4,438.9 L559.3,441.5 L562.2,444.0 L565.1,446.4 L568.0,448.7 L570.9,450.9 L573.8,453.0 L576.7,454.9 L579.6,456.8 L582.4,458.6 L585.3,460.4 L588.2,462.0 L591.1,463.6 L594.0,465.1 L596.9,466.5 L599.8,467.8 L602.7,469.1 L605.6,470.4 L608.5,471.5 L611.4,472.7 L614.3,473.7 L617.2,474.8 L620.1,475.7 L623.0,476.7 L625.9,477.6 L628.8,478.4 L631.7,479.2 L634.6,480.0 L637.5,480.7 L640.4,481.4 L643.3,482.1 L646.2,482.7 L649.1,483.3 L652.0,483.9 L654.9,484.5 L657.8,485.0 L660.7,485.5 L663.6,486.0 L666.5,486.4 L669.4,486.9 L672.3,487.3 L675.2,487.7 L678.1,488.1 L681.0,488.4 L683.9,488.8 L686.7,489.1 L689.6,489.4 L692.5,489.7 L695.4,490.0" fill="none" stroke="#c9935a" stroke-width="1.4"/>
<g fill="#1f6e9c"><circle cx="525.4" cy="348.9" r="2.4"/><circle cx="530.1" cy="368.1" r="2.4"/><circle cx="528.8" cy="375.3" r="2.4"/><circle cx="533.4" cy="377.6" r="2.4"/><circle cx="526.4" cy="396.4" r="2.4"/><circle cx="527.8" cy="396.8" r="2.4"/><circle cx="531.4" cy="402.4" r="2.4"/><circle cx="532.5" cy="405.6" r="2.4"/><circle cx="535.7" cy="409.6" r="2.4"/><circle cx="534.7" cy="417.6" r="2.4"/><circle cx="538.6" cy="428.6" r="2.4"/><circle cx="539.7" cy="403.3" r="2.4"/><circle cx="539.7" cy="433.2" r="2.4"/><circle cx="539.9" cy="425.5" r="2.4"/><circle cx="539.9" cy="402.3" r="2.4"/><circle cx="545.5" cy="424.5" r="2.4"/><circle cx="546.7" cy="411.3" r="2.4"/><circle cx="546.8" cy="428.4" r="2.4"/><circle cx="547.8" cy="442.9" r="2.4"/><circle cx="547.9" cy="422.0" r="2.4"/><circle cx="548.6" cy="431.1" r="2.4"/><circle cx="550.1" cy="433.3" r="2.4"/><circle cx="550.4" cy="449.5" r="2.4"/><circle cx="551.3" cy="450.1" r="2.4"/><circle cx="554.1" cy="419.0" r="2.4"/><circle cx="554.5" cy="418.3" r="2.4"/><circle cx="555.3" cy="418.6" r="2.4"/><circle cx="557.0" cy="446.4" r="2.4"/><circle cx="562.0" cy="464.2" r="2.4"/><circle cx="563.1" cy="443.3" r="2.4"/><circle cx="563.7" cy="435.9" r="2.4"/><circle cx="563.7" cy="439.8" r="2.4"/><circle cx="565.6" cy="466.9" r="2.4"/><circle cx="567.6" cy="460.7" r="2.4"/><circle cx="571.6" cy="443.4" r="2.4"/><circle cx="575.1" cy="473.9" r="2.4"/><circle cx="579.9" cy="442.9" r="2.4"/><circle cx="582.6" cy="438.4" r="2.4"/><circle cx="583.2" cy="470.8" r="2.4"/><circle cx="584.8" cy="480.1" r="2.4"/><circle cx="585.0" cy="440.2" r="2.4"/><circle cx="585.1" cy="449.5" r="2.4"/><circle cx="587.4" cy="464.3" r="2.4"/><circle cx="587.7" cy="463.4" r="2.4"/><circle cx="587.8" cy="444.6" r="2.4"/><circle cx="587.8" cy="468.8" r="2.4"/><circle cx="587.9" cy="481.9" r="2.4"/><circle cx="590.2" cy="459.0" r="2.4"/><circle cx="590.3" cy="472.0" r="2.4"/><circle cx="590.3" cy="456.1" r="2.4"/><circle cx="590.9" cy="444.9" r="2.4"/><circle cx="591.8" cy="470.7" r="2.4"/><circle cx="592.0" cy="475.7" r="2.4"/><circle cx="594.2" cy="485.2" r="2.4"/><circle cx="594.7" cy="451.9" r="2.4"/><circle cx="595.2" cy="484.6" r="2.4"/><circle cx="595.3" cy="447.0" r="2.4"/><circle cx="595.5" cy="457.7" r="2.4"/><circle cx="595.7" cy="448.9" r="2.4"/><circle cx="600.9" cy="455.6" r="2.4"/><circle cx="601.1" cy="482.6" r="2.4"/><circle cx="603.4" cy="484.2" r="2.4"/><circle cx="603.9" cy="450.5" r="2.4"/><circle cx="604.1" cy="479.5" r="2.4"/><circle cx="606.7" cy="459.1" r="2.4"/><circle cx="607.0" cy="485.9" r="2.4"/><circle cx="607.0" cy="480.4" r="2.4"/><circle cx="608.5" cy="464.9" r="2.4"/><circle cx="609.3" cy="483.5" r="2.4"/><circle cx="610.8" cy="462.3" r="2.4"/><circle cx="611.0" cy="457.0" r="2.4"/><circle cx="613.7" cy="482.1" r="2.4"/><circle cx="614.6" cy="483.3" r="2.4"/><circle cx="614.9" cy="495.1" r="2.4"/><circle cx="616.0" cy="478.5" r="2.4"/><circle cx="616.5" cy="494.1" r="2.4"/><circle cx="620.0" cy="473.3" r="2.4"/><circle cx="622.4" cy="469.2" r="2.4"/><circle cx="625.1" cy="475.2" r="2.4"/><circle cx="625.4" cy="473.7" r="2.4"/><circle cx="626.0" cy="474.1" r="2.4"/><circle cx="626.9" cy="461.3" r="2.4"/><circle cx="627.9" cy="477.6" r="2.4"/><circle cx="629.1" cy="463.7" r="2.4"/><circle cx="632.9" cy="486.7" r="2.4"/><circle cx="633.3" cy="496.0" r="2.4"/><circle cx="634.9" cy="492.9" r="2.4"/><circle cx="635.6" cy="468.4" r="2.4"/><circle cx="636.7" cy="493.0" r="2.4"/><circle cx="637.1" cy="469.6" r="2.4"/><circle cx="637.3" cy="464.1" r="2.4"/><circle cx="638.2" cy="479.8" r="2.4"/><circle cx="639.8" cy="497.5" r="2.4"/><circle cx="640.7" cy="477.0" r="2.4"/><circle cx="640.8" cy="487.5" r="2.4"/><circle cx="641.5" cy="464.8" r="2.4"/><circle cx="642.1" cy="494.5" r="2.4"/><circle cx="642.4" cy="494.2" r="2.4"/><circle cx="648.4" cy="484.8" r="2.4"/><circle cx="649.3" cy="484.4" r="2.4"/><circle cx="650.6" cy="497.9" r="2.4"/><circle cx="651.1" cy="490.0" r="2.4"/><circle cx="652.0" cy="477.4" r="2.4"/><circle cx="652.9" cy="486.2" r="2.4"/><circle cx="653.1" cy="499.9" r="2.4"/><circle cx="653.9" cy="488.7" r="2.4"/><circle cx="654.4" cy="488.8" r="2.4"/><circle cx="654.6" cy="487.5" r="2.4"/><circle cx="654.7" cy="499.9" r="2.4"/><circle cx="655.2" cy="495.1" r="2.4"/><circle cx="655.5" cy="465.9" r="2.4"/><circle cx="658.6" cy="469.4" r="2.4"/><circle cx="658.7" cy="466.9" r="2.4"/><circle cx="659.4" cy="474.9" r="2.4"/><circle cx="660.0" cy="489.0" r="2.4"/><circle cx="660.4" cy="467.4" r="2.4"/><circle cx="663.6" cy="495.4" r="2.4"/><circle cx="664.0" cy="482.8" r="2.4"/><circle cx="664.2" cy="483.1" r="2.4"/><circle cx="664.6" cy="489.5" r="2.4"/><circle cx="666.2" cy="498.0" r="2.4"/><circle cx="666.9" cy="494.6" r="2.4"/><circle cx="668.1" cy="481.3" r="2.4"/><circle cx="669.3" cy="497.0" r="2.4"/><circle cx="670.5" cy="494.5" r="2.4"/><circle cx="671.7" cy="494.3" r="2.4"/><circle cx="672.4" cy="495.7" r="2.4"/><circle cx="672.9" cy="474.0" r="2.4"/><circle cx="673.3" cy="486.3" r="2.4"/><circle cx="674.3" cy="499.9" r="2.4"/><circle cx="677.3" cy="478.3" r="2.4"/><circle cx="680.2" cy="489.0" r="2.4"/><circle cx="682.1" cy="477.3" r="2.4"/><circle cx="683.0" cy="489.7" r="2.4"/><circle cx="683.1" cy="497.6" r="2.4"/><circle cx="684.8" cy="475.0" r="2.4"/><circle cx="686.4" cy="499.9" r="2.4"/><circle cx="686.5" cy="499.4" r="2.4"/><circle cx="687.9" cy="490.7" r="2.4"/><circle cx="689.1" cy="474.6" r="2.4"/><circle cx="689.2" cy="499.9" r="2.4"/><circle cx="690.5" cy="497.3" r="2.4"/><circle cx="692.7" cy="489.1" r="2.4"/><circle cx="693.1" cy="482.9" r="2.4"/><circle cx="695.2" cy="499.9" r="2.4"/></g>
<path d="M518,338.2 V502.2" fill="none" stroke="#000" stroke-width="1.7"/><path d="M517.2,502.2 H703.8" fill="none" stroke="#000" stroke-width="2.4"/>
<path d="M518,452.0 H574.7 V502.2" fill="none" stroke="#000" stroke-width="2.4"/>
<line x1="510.6" y1="495.9" x2="518" y2="495.9" stroke="#000" stroke-width="1.4"/>
<text x="503.6" y="501.5" font-size="15.8" font-weight="normal" text-anchor="end" fill="#000" textLength="7.0" lengthAdjust="spacingAndGlyphs" stroke="#000" stroke-width="0.35">0</text>
<line x1="510.6" y1="475.9" x2="518" y2="475.9" stroke="#000" stroke-width="1.4"/>
<text x="503.6" y="481.5" font-size="15.8" font-weight="normal" text-anchor="end" fill="#000" textLength="14.1" lengthAdjust="spacingAndGlyphs" stroke="#000" stroke-width="0.35">25</text>
<line x1="510.6" y1="455.9" x2="518" y2="455.9" stroke="#000" stroke-width="1.4"/>
<text x="503.6" y="461.6" font-size="15.8" font-weight="normal" text-anchor="end" fill="#000" textLength="14.1" lengthAdjust="spacingAndGlyphs" stroke="#000" stroke-width="0.35">50</text>
<line x1="510.6" y1="436.0" x2="518" y2="436.0" stroke="#000" stroke-width="1.4"/>
<text x="503.6" y="441.6" font-size="15.8" font-weight="normal" text-anchor="end" fill="#000" textLength="14.1" lengthAdjust="spacingAndGlyphs" stroke="#000" stroke-width="0.35">75</text>
<line x1="510.6" y1="416.0" x2="518" y2="416.0" stroke="#000" stroke-width="1.4"/>
<text x="503.6" y="421.6" font-size="15.8" font-weight="normal" text-anchor="end" fill="#000" textLength="21.1" lengthAdjust="spacingAndGlyphs" stroke="#000" stroke-width="0.35">100</text>
<line x1="510.6" y1="396.0" x2="518" y2="396.0" stroke="#000" stroke-width="1.4"/>
<text x="503.6" y="401.6" font-size="15.8" font-weight="normal" text-anchor="end" fill="#000" textLength="21.1" lengthAdjust="spacingAndGlyphs" stroke="#000" stroke-width="0.35">125</text>
<line x1="510.6" y1="376.0" x2="518" y2="376.0" stroke="#000" stroke-width="1.4"/>
<text x="503.6" y="381.6" font-size="15.8" font-weight="normal" text-anchor="end" fill="#000" textLength="21.1" lengthAdjust="spacingAndGlyphs" stroke="#000" stroke-width="0.35">150</text>
<line x1="510.6" y1="356.1" x2="518" y2="356.1" stroke="#000" stroke-width="1.4"/>
<text x="503.6" y="361.7" font-size="15.8" font-weight="normal" text-anchor="end" fill="#000" textLength="21.1" lengthAdjust="spacingAndGlyphs" stroke="#000" stroke-width="0.35">175</text>
<g fill="#4472c4" stroke="none"><rect x="521" y="508.7" width="52.2" height="1.8"/><polygon points="516.2,509.6 523.8,505.1 523.8,514.1"/><polygon points="575.9000000000001,509.6 568.3000000000001,505.1 568.3000000000001,514.1"/></g>
<text x="515.71" y="528.60" font-size="16.20" font-weight="normal" fill="#000" textLength="14.97" lengthAdjust="spacingAndGlyphs">½</text><text x="536.33" y="528.60" font-size="16.20" font-weight="normal" fill="#000" textLength="39.88" lengthAdjust="spacingAndGlyphs">width</text><text x="603.78" y="528.60" font-size="16.20" font-weight="normal" fill="#000" textLength="62.43" lengthAdjust="spacingAndGlyphs">Distance</text><text x="671.05" y="528.60" font-size="16.20" font-weight="normal" fill="#000" textLength="35.10" lengthAdjust="spacingAndGlyphs">(µm)</text>
<path d="M387.1,318.1 H434.5 M468.5,214.8 H434.5 V425.3 H468.5" fill="none" stroke="#000" stroke-width="1.8"/>
<polygon points="478,214.8 467,208.6 467,221"/><polygon points="478,425.3 467,419.1 467,431.5"/>
<use href="#octA" transform="translate(781.5,133.5) scale(1.667,1.657)"/>
<g transform="translate(781.5,133.5) scale(1.667,1.657)"><line x1="54.8" y1="57.3" x2="19.5" y2="39.2" stroke="#f2b31d" stroke-width="1.3"/><polygon points="15.9,37.0 22.6,37.6 20.3,41.9" fill="#f2b31d"/><text x="21.6" y="32.9" font-size="7.6" font-weight="bold" fill="#fff" textLength="10.6" lengthAdjust="spacingAndGlyphs">CN</text></g>
<use href="#octB" transform="translate(781.5,340.5) scale(1.667,1.662)"/>
<g transform="translate(781.5,340.5) scale(1.667,1.662)"><line x1="57.1" y1="52.9" x2="20" y2="41.8" stroke="#f2b31d" stroke-width="1.3"/><polygon points="16.2,40.6 22.9,40.2 21.5,44.8" fill="#f2b31d"/><text x="20.8" y="31.9" font-size="7.6" font-weight="bold" fill="#fff" textLength="10.6" lengthAdjust="spacingAndGlyphs">CN</text></g>
<text x="33.14" y="625.71" font-size="33.87" font-weight="bold" fill="#000" textLength="188.02" lengthAdjust="spacingAndGlyphs" stroke="#000" stroke-width="1.17" stroke-linejoin="round">Morphological</text><text x="228.01" y="625.71" font-size="33.87" font-weight="bold" fill="#000" textLength="175.02" lengthAdjust="spacingAndGlyphs" stroke="#000" stroke-width="1.17" stroke-linejoin="round">classification</text><text x="410.61" y="625.71" font-size="33.87" font-weight="bold" fill="#000" textLength="25.95" lengthAdjust="spacingAndGlyphs" stroke="#000" stroke-width="1.17" stroke-linejoin="round">of</text><text x="444.10" y="625.71" font-size="33.87" font-weight="bold" fill="#000" textLength="34.63" lengthAdjust="spacingAndGlyphs" stroke="#000" stroke-width="1.17" stroke-linejoin="round">CN</text>
<text x="317.16" y="672.00" font-size="29.09" font-weight="bold" fill="#000" textLength="98.17" lengthAdjust="spacingAndGlyphs" stroke="#000" stroke-width="1.01" stroke-linejoin="round">Eruptive</text><text x="423.29" y="672.00" font-size="29.09" font-weight="bold" fill="#000" textLength="28.53" lengthAdjust="spacingAndGlyphs" stroke="#000" stroke-width="1.01" stroke-linejoin="round">CN</text><text x="460.32" y="672.00" font-size="29.09" font-weight="bold" fill="#000" textLength="65.85" lengthAdjust="spacingAndGlyphs" stroke="#000" stroke-width="1.01" stroke-linejoin="round">(ECN)</text>
<text x="647.20" y="671.79" font-size="29.09" font-weight="bold" fill="#000" textLength="102.31" lengthAdjust="spacingAndGlyphs" stroke="#000" stroke-width="1.01" stroke-linejoin="round">Calcified</text><text x="755.18" y="671.79" font-size="29.09" font-weight="bold" fill="#000" textLength="123.35" lengthAdjust="spacingAndGlyphs" stroke="#000" stroke-width="1.01" stroke-linejoin="round">protrusion</text><text x="883.88" y="671.79" font-size="29.09" font-weight="bold" fill="#000" textLength="50.43" lengthAdjust="spacingAndGlyphs" stroke="#000" stroke-width="1.01" stroke-linejoin="round">(CP)</text>
<text x="596.12" y="775.60" font-size="30.44" font-weight="bold" fill="#000" textLength="25.16" lengthAdjust="spacingAndGlyphs" stroke="#000" stroke-width="0.4" stroke-linejoin="round">or</text>
<use href="#octA" transform="translate(337.3,682.9) scale(1.673,1.669)"/>
<g transform="translate(337.3,682.9) scale(1.673,1.669)" fill="#f5e02a"><polygon points="51.2,43.6 55,42.3 55,45.4"/><polygon points="51.6,51.2 55.6,49.8 55.6,52.9"/><polygon points="49.2,57 53,55.4 53,59"/></g>
<use href="#octC" transform="translate(707,682.7) scale(1.676,1.671)"/>
<rect x="1224" y="211.7" width="788.2" height="483.5" fill="#f1eedc"/>
<text x="1239.29" y="97.80" font-size="34.82" font-weight="bold" fill="#000" textLength="170.33" lengthAdjust="spacingAndGlyphs" stroke="#000" stroke-width="1.2" stroke-linejoin="round">Kaplan-Meier</text><text x="1422.42" y="97.80" font-size="34.82" font-weight="bold" fill="#000" textLength="73.93" lengthAdjust="spacingAndGlyphs" stroke="#000" stroke-width="1.2" stroke-linejoin="round">curve</text><text x="1505.24" y="97.80" font-size="34.82" font-weight="bold" fill="#000" textLength="23.21" lengthAdjust="spacingAndGlyphs" stroke="#000" stroke-width="1.2" stroke-linejoin="round">of</text><text x="1538.24" y="97.80" font-size="34.82" font-weight="bold" fill="#000" textLength="142.29" lengthAdjust="spacingAndGlyphs" stroke="#000" stroke-width="1.2" stroke-linejoin="round">cumulative</text><text x="1689.34" y="97.80" font-size="34.82" font-weight="bold" fill="#000" textLength="122.67" lengthAdjust="spacingAndGlyphs" stroke="#000" stroke-width="1.2" stroke-linejoin="round">incidence</text><text x="1823.44" y="97.80" font-size="34.82" font-weight="bold" fill="#000" textLength="23.32" lengthAdjust="spacingAndGlyphs" stroke="#000" stroke-width="1.2" stroke-linejoin="round">of</text><text x="1857.24" y="97.80" font-size="34.82" font-weight="bold" fill="#000" textLength="45.75" lengthAdjust="spacingAndGlyphs" stroke="#000" stroke-width="1.2" stroke-linejoin="round">TLR</text>
<rect x="1663.5" y="227.1" width="330.6" height="128.2" fill="#fafaf5"/>
<line x1="1672.9" y1="246.9" x2="1712.9" y2="246.9" stroke="#8f1a1a" stroke-width="2.6"/>
<text x="1722.26" y="255.70" font-size="24.50" font-weight="normal" fill="#000" textLength="63.20" lengthAdjust="spacingAndGlyphs">Group</text><text x="1793.65" y="255.70" font-size="24.50" font-weight="normal" fill="#000" textLength="21.86" lengthAdjust="spacingAndGlyphs">A:</text><text x="1821.48" y="255.70" font-size="24.50" font-weight="normal" fill="#000" textLength="46.79" lengthAdjust="spacingAndGlyphs">Dark</text><text x="1877.04" y="255.70" font-size="24.50" font-weight="normal" fill="#000" textLength="39.42" lengthAdjust="spacingAndGlyphs">CN,</text><text x="1923.15" y="255.70" font-size="24.50" font-weight="normal" fill="#000" textLength="47.59" lengthAdjust="spacingAndGlyphs">ECN</text>
<line x1="1672.9" y1="277.4" x2="1712.9" y2="277.4" stroke="#e8b040" stroke-width="2.6"/>
<text x="1722.26" y="285.70" font-size="24.50" font-weight="normal" fill="#000" textLength="63.20" lengthAdjust="spacingAndGlyphs">Group</text><text x="1792.75" y="285.70" font-size="24.50" font-weight="normal" fill="#000" textLength="23.64" lengthAdjust="spacingAndGlyphs">B:</text><text x="1823.28" y="285.70" font-size="24.50" font-weight="normal" fill="#000" textLength="46.79" lengthAdjust="spacingAndGlyphs">Dark</text><text x="1878.12" y="285.70" font-size="24.50" font-weight="normal" fill="#000" textLength="39.96" lengthAdjust="spacingAndGlyphs">CN,</text><text x="1924.25" y="285.70" font-size="24.50" font-weight="normal" fill="#000" textLength="31.33" lengthAdjust="spacingAndGlyphs">CP</text>
<line x1="1672.9" y1="307.3" x2="1712.9" y2="307.3" stroke="#4472c4" stroke-width="2.6"/>
<text x="1722.26" y="315.80" font-size="24.50" font-weight="normal" fill="#000" textLength="63.20" lengthAdjust="spacingAndGlyphs">Group</text><text x="1792.53" y="315.80" font-size="24.50" font-weight="normal" fill="#000" textLength="22.96" lengthAdjust="spacingAndGlyphs">C:</text><text x="1822.44" y="315.80" font-size="24.50" font-weight="normal" fill="#000" textLength="62.54" lengthAdjust="spacingAndGlyphs">Bright</text><text x="1892.82" y="315.80" font-size="24.50" font-weight="normal" fill="#000" textLength="40.18" lengthAdjust="spacingAndGlyphs">CN,</text><text x="1939.37" y="315.80" font-size="24.50" font-weight="normal" fill="#000" textLength="47.15" lengthAdjust="spacingAndGlyphs">ECN</text>
<line x1="1672.9" y1="337.3" x2="1712.9" y2="337.3" stroke="#6aaa3a" stroke-width="2.6"/>
<text x="1722.26" y="346.10" font-size="24.50" font-weight="normal" fill="#000" textLength="63.20" lengthAdjust="spacingAndGlyphs">Group</text><text x="1792.88" y="346.10" font-size="24.50" font-weight="normal" fill="#000" textLength="23.35" lengthAdjust="spacingAndGlyphs">D:</text><text x="1823.54" y="346.10" font-size="24.50" font-weight="normal" fill="#000" textLength="62.54" lengthAdjust="spacingAndGlyphs">Bright</text><text x="1893.52" y="346.10" font-size="24.50" font-weight="normal" fill="#000" textLength="40.07" lengthAdjust="spacingAndGlyphs">CN,</text><text x="1940.79" y="346.10" font-size="24.50" font-weight="normal" fill="#000" textLength="30.36" lengthAdjust="spacingAndGlyphs">CP</text>
<text x="1241.03" y="246.67" font-size="24.80" font-weight="bold" fill="#000" textLength="26.01" lengthAdjust="spacingAndGlyphs" stroke="#000" stroke-width="0.86" stroke-linejoin="round">HR</text><text x="1273.94" y="246.67" font-size="24.80" font-weight="bold" fill="#000" textLength="55.66" lengthAdjust="spacingAndGlyphs" stroke="#000" stroke-width="0.86" stroke-linejoin="round">(95%</text><text x="1336.36" y="246.67" font-size="24.80" font-weight="bold" fill="#000" textLength="28.27" lengthAdjust="spacingAndGlyphs" stroke="#000" stroke-width="0.86" stroke-linejoin="round">CI)</text>
<text x="1241.37" y="276.20" font-size="24.88" font-weight="bold" fill="#000" textLength="60.35" lengthAdjust="spacingAndGlyphs" stroke="#000" stroke-width="0.8" stroke-linejoin="round">Group</text><text x="1308.00" y="276.20" font-size="24.88" font-weight="bold" fill="#000" textLength="11.52" lengthAdjust="spacingAndGlyphs" stroke="#000" stroke-width="0.8" stroke-linejoin="round">A</text><text x="1325.83" y="276.20" font-size="24.88" font-weight="bold" fill="#000" textLength="20.74" lengthAdjust="spacingAndGlyphs" stroke="#000" stroke-width="0.8" stroke-linejoin="round">vs</text><text x="1353.93" y="276.20" font-size="24.88" font-weight="bold" fill="#000" textLength="19.99" lengthAdjust="spacingAndGlyphs" stroke="#000" stroke-width="0.8" stroke-linejoin="round">B:</text>
<text x="1379.11" y="276.20" font-size="24.88" font-weight="bold" fill="#000" textLength="170.17" lengthAdjust="spacingAndGlyphs" stroke="#000" stroke-width="0.8" stroke-linejoin="round">2.66 (0.78-9.14);</text>
<text x="1555.31" y="276.20" font-size="24.88" font-weight="bold" fill="#000" textLength="73.42" lengthAdjust="spacingAndGlyphs" stroke="#000" stroke-width="0.8" stroke-linejoin="round"><tspan font-style="italic">p</tspan>=0.12</text>
<text x="1241.37" y="305.20" font-size="24.88" font-weight="bold" fill="#000" textLength="60.35" lengthAdjust="spacingAndGlyphs" stroke="#000" stroke-width="0.8" stroke-linejoin="round">Group</text><text x="1308.00" y="305.20" font-size="24.88" font-weight="bold" fill="#000" textLength="11.52" lengthAdjust="spacingAndGlyphs" stroke="#000" stroke-width="0.8" stroke-linejoin="round">A</text><text x="1325.83" y="305.20" font-size="24.88" font-weight="bold" fill="#000" textLength="20.74" lengthAdjust="spacingAndGlyphs" stroke="#000" stroke-width="0.8" stroke-linejoin="round">vs</text><text x="1354.44" y="305.20" font-size="24.88" font-weight="bold" fill="#000" textLength="19.43" lengthAdjust="spacingAndGlyphs" stroke="#000" stroke-width="0.8" stroke-linejoin="round">C:</text>
<text x="1379.37" y="305.20" font-size="24.88" font-weight="bold" fill="#000" textLength="183.71" lengthAdjust="spacingAndGlyphs" stroke="#000" stroke-width="0.8" stroke-linejoin="round">3.50 (0.80-15.20);</text>
<text x="1569.11" y="305.20" font-size="24.88" font-weight="bold" fill="#000" textLength="73.45" lengthAdjust="spacingAndGlyphs" stroke="#000" stroke-width="0.8" stroke-linejoin="round"><tspan font-style="italic">p</tspan>=0.10</text>
<text x="1241.37" y="334.10" font-size="24.88" font-weight="bold" fill="#000" textLength="60.35" lengthAdjust="spacingAndGlyphs" stroke="#000" stroke-width="0.8" stroke-linejoin="round">Group</text><text x="1308.00" y="334.10" font-size="24.88" font-weight="bold" fill="#000" textLength="11.52" lengthAdjust="spacingAndGlyphs" stroke="#000" stroke-width="0.8" stroke-linejoin="round">A</text><text x="1325.83" y="334.10" font-size="24.88" font-weight="bold" fill="#000" textLength="20.74" lengthAdjust="spacingAndGlyphs" stroke="#000" stroke-width="0.8" stroke-linejoin="round">vs</text><text x="1353.93" y="334.10" font-size="24.88" font-weight="bold" fill="#000" textLength="19.99" lengthAdjust="spacingAndGlyphs" stroke="#000" stroke-width="0.8" stroke-linejoin="round">D:</text>
<text x="1379.20" y="334.10" font-size="24.88" font-weight="bold" fill="#000" textLength="182.78" lengthAdjust="spacingAndGlyphs" stroke="#000" stroke-width="0.8" stroke-linejoin="round">5.34 (1.55-18.30);</text>
<text x="1568.42" y="334.10" font-size="24.88" font-weight="bold" fill="#000" textLength="88.21" lengthAdjust="spacingAndGlyphs" stroke="#000" stroke-width="0.8" stroke-linejoin="round"><tspan font-style="italic">p</tspan>=0.008</text>
<text x="1241.37" y="362.40" font-size="24.88" font-weight="bold" fill="#000" textLength="60.35" lengthAdjust="spacingAndGlyphs" stroke="#000" stroke-width="0.8" stroke-linejoin="round">Group</text><text x="1308.80" y="362.40" font-size="24.88" font-weight="bold" fill="#000" textLength="11.84" lengthAdjust="spacingAndGlyphs" stroke="#000" stroke-width="0.8" stroke-linejoin="round">B</text><text x="1327.73" y="362.40" font-size="24.88" font-weight="bold" fill="#000" textLength="20.74" lengthAdjust="spacingAndGlyphs" stroke="#000" stroke-width="0.8" stroke-linejoin="round">vs</text><text x="1356.34" y="362.40" font-size="24.88" font-weight="bold" fill="#000" textLength="19.43" lengthAdjust="spacingAndGlyphs" stroke="#000" stroke-width="0.8" stroke-linejoin="round">C:</text>
<text x="1382.59" y="362.40" font-size="24.88" font-weight="bold" fill="#000" textLength="166.64" lengthAdjust="spacingAndGlyphs" stroke="#000" stroke-width="0.8" stroke-linejoin="round">1.31 (0.22-7.87);</text>
<text x="1555.32" y="362.40" font-size="24.88" font-weight="bold" fill="#000" textLength="74.94" lengthAdjust="spacingAndGlyphs" stroke="#000" stroke-width="0.8" stroke-linejoin="round"><tspan font-style="italic">p</tspan>=0.76</text>
<text x="1241.37" y="391.60" font-size="24.88" font-weight="bold" fill="#000" textLength="60.35" lengthAdjust="spacingAndGlyphs" stroke="#000" stroke-width="0.8" stroke-linejoin="round">Group</text><text x="1308.80" y="391.60" font-size="24.88" font-weight="bold" fill="#000" textLength="11.84" lengthAdjust="spacingAndGlyphs" stroke="#000" stroke-width="0.8" stroke-linejoin="round">B</text><text x="1327.73" y="391.60" font-size="24.88" font-weight="bold" fill="#000" textLength="20.74" lengthAdjust="spacingAndGlyphs" stroke="#000" stroke-width="0.8" stroke-linejoin="round">vs</text><text x="1355.83" y="391.60" font-size="24.88" font-weight="bold" fill="#000" textLength="19.99" lengthAdjust="spacingAndGlyphs" stroke="#000" stroke-width="0.8" stroke-linejoin="round">D:</text>
<text x="1380.89" y="391.60" font-size="24.88" font-weight="bold" fill="#000" textLength="174.65" lengthAdjust="spacingAndGlyphs" stroke="#000" stroke-width="0.8" stroke-linejoin="round">2.01 (0.40-9.94);</text>
<text x="1561.53" y="391.60" font-size="24.88" font-weight="bold" fill="#000" textLength="75.66" lengthAdjust="spacingAndGlyphs" stroke="#000" stroke-width="0.8" stroke-linejoin="round"><tspan font-style="italic">p</tspan>=0.39</text>
<text x="1241.37" y="420.60" font-size="24.88" font-weight="bold" fill="#000" textLength="60.35" lengthAdjust="spacingAndGlyphs" stroke="#000" stroke-width="0.8" stroke-linejoin="round">Group</text><text x="1309.27" y="420.60" font-size="24.88" font-weight="bold" fill="#000" textLength="11.05" lengthAdjust="spacingAndGlyphs" stroke="#000" stroke-width="0.8" stroke-linejoin="round">C</text><text x="1327.73" y="420.60" font-size="24.88" font-weight="bold" fill="#000" textLength="20.74" lengthAdjust="spacingAndGlyphs" stroke="#000" stroke-width="0.8" stroke-linejoin="round">vs</text><text x="1355.83" y="420.60" font-size="24.88" font-weight="bold" fill="#000" textLength="19.99" lengthAdjust="spacingAndGlyphs" stroke="#000" stroke-width="0.8" stroke-linejoin="round">D:</text>
<text x="1382.57" y="420.60" font-size="24.88" font-weight="bold" fill="#000" textLength="168.99" lengthAdjust="spacingAndGlyphs" stroke="#000" stroke-width="0.8" stroke-linejoin="round">1.53 (0.25-9.14);</text>
<text x="1558.12" y="420.60" font-size="24.88" font-weight="bold" fill="#000" textLength="74.41" lengthAdjust="spacingAndGlyphs" stroke="#000" stroke-width="0.8" stroke-linejoin="round"><tspan font-style="italic">p</tspan>=0.64</text>
<text x="1728.93" y="392.90" font-size="25.38" font-weight="bold" fill="#000" textLength="93.95" lengthAdjust="spacingAndGlyphs" stroke="#000" stroke-width="0.8" stroke-linejoin="round">Log-rank</text>
<text x="1831.93" y="392.90" font-size="25.38" font-weight="bold" fill="#000" textLength="88.81" lengthAdjust="spacingAndGlyphs" stroke="#000" stroke-width="0.8" stroke-linejoin="round"><tspan font-style="italic">p</tspan>=0.008</text>
<line x1="1223.7" y1="211.9" x2="1223.7" y2="696.6" stroke="#000" stroke-width="2.6"/>
<path d="M1222.4,695.2 H2012.2" stroke="#000" stroke-width="3"/>
<path d="M1225.3,696.0 L1225.3,684.1 L1227.2,684.1 L1227.2,670.3 L1250.0,670.3 L1250.0,657.1 L1263.3,657.1 L1263.3,644.3 L1269.3,644.3 L1269.3,631.4 L1312.8,631.4 L1312.8,618.2 L1322.5,618.2 L1322.5,604.6 L1329.0,604.6 L1329.0,590.9 L1349.1,590.9 L1349.1,577.3 L1360.7,577.3 L1360.7,563.3 L1372.0,563.3 L1372.0,549.6 L1387.5,549.6 L1387.5,532.2 L1434.3,532.2 L1434.3,515.0 L1618.9,515.0 L1618.9,491.9 L1712.1,491.9 L1712.1,466.4 L1754.3,466.4 L1754.3,437.9 L1910.0,437.9" fill="none" stroke="#8f1a1a" stroke-width="2.7" stroke-linejoin="miter"/>
<path d="M1224.5,695.3 L1294.2,695.3 L1294.2,669.1 L1485.5,669.1 L1485.5,618.2 L1575.4,618.2 L1575.4,567.7 L1910.0,567.7" fill="none" stroke="#e8b040" stroke-width="2.7" stroke-linejoin="miter"/>
<path d="M1239.4,695.5 L1239.4,663.4 L1776.4,663.4 L1776.4,551.6 L1910.0,551.6" fill="none" stroke="#4472c4" stroke-width="2.7" stroke-linejoin="miter"/>
<path d="M1224.5,695.3 L1268.6,695.3 L1268.6,681.7 L1277.8,681.7 L1277.8,669.1 L1323.7,669.1 L1323.7,654.0 L1910.0,654.0" fill="none" stroke="#6aaa3a" stroke-width="2.7" stroke-linejoin="miter"/>
<line x1="1209.4" y1="695.0" x2="1223" y2="695.0" stroke="#000" stroke-width="2"/>
<text x="1199.3" y="703.6" font-size="24.2" font-weight="normal" text-anchor="end" fill="#000" textLength="10.5" lengthAdjust="spacingAndGlyphs" stroke="#000" stroke-width="0.4">0</text>
<line x1="1209.4" y1="598.6" x2="1223" y2="598.6" stroke="#000" stroke-width="2"/>
<text x="1199.3" y="607.2" font-size="24.2" font-weight="normal" text-anchor="end" fill="#000" textLength="21.0" lengthAdjust="spacingAndGlyphs" stroke="#000" stroke-width="0.4">20</text>
<line x1="1209.4" y1="502.2" x2="1223" y2="502.2" stroke="#000" stroke-width="2"/>
<text x="1199.3" y="510.8" font-size="24.2" font-weight="normal" text-anchor="end" fill="#000" textLength="21.0" lengthAdjust="spacingAndGlyphs" stroke="#000" stroke-width="0.4">40</text>
<line x1="1209.4" y1="405.8" x2="1223" y2="405.8" stroke="#000" stroke-width="2"/>
<text x="1199.3" y="414.4" font-size="24.2" font-weight="normal" text-anchor="end" fill="#000" textLength="21.0" lengthAdjust="spacingAndGlyphs" stroke="#000" stroke-width="0.4">60</text>
<line x1="1209.4" y1="309.4" x2="1223" y2="309.4" stroke="#000" stroke-width="2"/>
<text x="1199.3" y="318.0" font-size="24.2" font-weight="normal" text-anchor="end" fill="#000" textLength="21.0" lengthAdjust="spacingAndGlyphs" stroke="#000" stroke-width="0.4">80</text>
<line x1="1209.4" y1="213.0" x2="1223" y2="213.0" stroke="#000" stroke-width="2"/>
<text x="1199.3" y="221.6" font-size="24.2" font-weight="normal" text-anchor="end" fill="#000" textLength="31.5" lengthAdjust="spacingAndGlyphs" stroke="#000" stroke-width="0.4">100</text>
<text x="1128.3" y="221.5" font-size="24.2" font-weight="normal" text-anchor="start" fill="#000" textLength="31.0" lengthAdjust="spacingAndGlyphs" stroke="#000" stroke-width="0.3">(%)</text>
<line x1="1223.9" y1="695" x2="1223.9" y2="709.7" stroke="#000" stroke-width="2"/>
<text x="1223.9" y="738.8" font-size="24" font-weight="normal" text-anchor="middle" fill="#000" textLength="10.5" lengthAdjust="spacingAndGlyphs" stroke="#000" stroke-width="0.4">0</text>
<line x1="1360.9" y1="695" x2="1360.9" y2="709.7" stroke="#000" stroke-width="2"/>
<text x="1360.9" y="738.8" font-size="24" font-weight="normal" text-anchor="middle" fill="#000" textLength="10.5" lengthAdjust="spacingAndGlyphs" stroke="#000" stroke-width="0.4">1</text>
<line x1="1497.9" y1="695" x2="1497.9" y2="709.7" stroke="#000" stroke-width="2"/>
<text x="1497.9" y="738.8" font-size="24" font-weight="normal" text-anchor="middle" fill="#000" textLength="10.5" lengthAdjust="spacingAndGlyphs" stroke="#000" stroke-width="0.4">2</text>
<line x1="1634.9" y1="695" x2="1634.9" y2="709.7" stroke="#000" stroke-width="2"/>
<text x="1634.9" y="738.8" font-size="24" font-weight="normal" text-anchor="middle" fill="#000" textLength="10.5" lengthAdjust="spacingAndGlyphs" stroke="#000" stroke-width="0.4">3</text>
<line x1="1771.9" y1="695" x2="1771.9" y2="709.7" stroke="#000" stroke-width="2"/>
<text x="1771.9" y="738.8" font-size="24" font-weight="normal" text-anchor="middle" fill="#000" textLength="10.5" lengthAdjust="spacingAndGlyphs" stroke="#000" stroke-width="0.4">4</text>
<line x1="1908.9" y1="695" x2="1908.9" y2="709.7" stroke="#000" stroke-width="2"/>
<text x="1908.9" y="738.8" font-size="24" font-weight="normal" text-anchor="middle" fill="#000" textLength="10.5" lengthAdjust="spacingAndGlyphs" stroke="#000" stroke-width="0.4">5</text>
<text x="1402.55" y="798.90" font-size="28.60" font-weight="normal" fill="#000" textLength="65.87" lengthAdjust="spacingAndGlyphs">Years</text><text x="1478.40" y="798.90" font-size="28.60" font-weight="normal" fill="#000" textLength="56.67" lengthAdjust="spacingAndGlyphs">from</text><text x="1544.81" y="798.90" font-size="28.60" font-weight="normal" fill="#000" textLength="67.49" lengthAdjust="spacingAndGlyphs">index</text><text x="1621.15" y="798.90" font-size="28.60" font-weight="normal" fill="#000" textLength="45.68" lengthAdjust="spacingAndGlyphs">PCI</text><text x="1675.28" y="798.90" font-size="28.60" font-weight="normal" fill="#000" textLength="56.51" lengthAdjust="spacingAndGlyphs">date</text>
<g transform="translate(1139.9,635.9) rotate(-90)"><text x="-1.56" y="0.00" font-size="29.70" font-weight="normal" fill="#000" textLength="153.52" lengthAdjust="spacingAndGlyphs">Cumulative</text><text x="160.37" y="0.00" font-size="29.70" font-weight="normal" fill="#000" textLength="122.12" lengthAdjust="spacingAndGlyphs">incidence</text><text x="291.33" y="0.00" font-size="29.70" font-weight="normal" fill="#000" textLength="23.23" lengthAdjust="spacingAndGlyphs">of</text><text x="325.34" y="0.00" font-size="29.70" font-weight="normal" fill="#000" textLength="39.02" lengthAdjust="spacingAndGlyphs">TLR</text></g>
</svg>
</body></html>
